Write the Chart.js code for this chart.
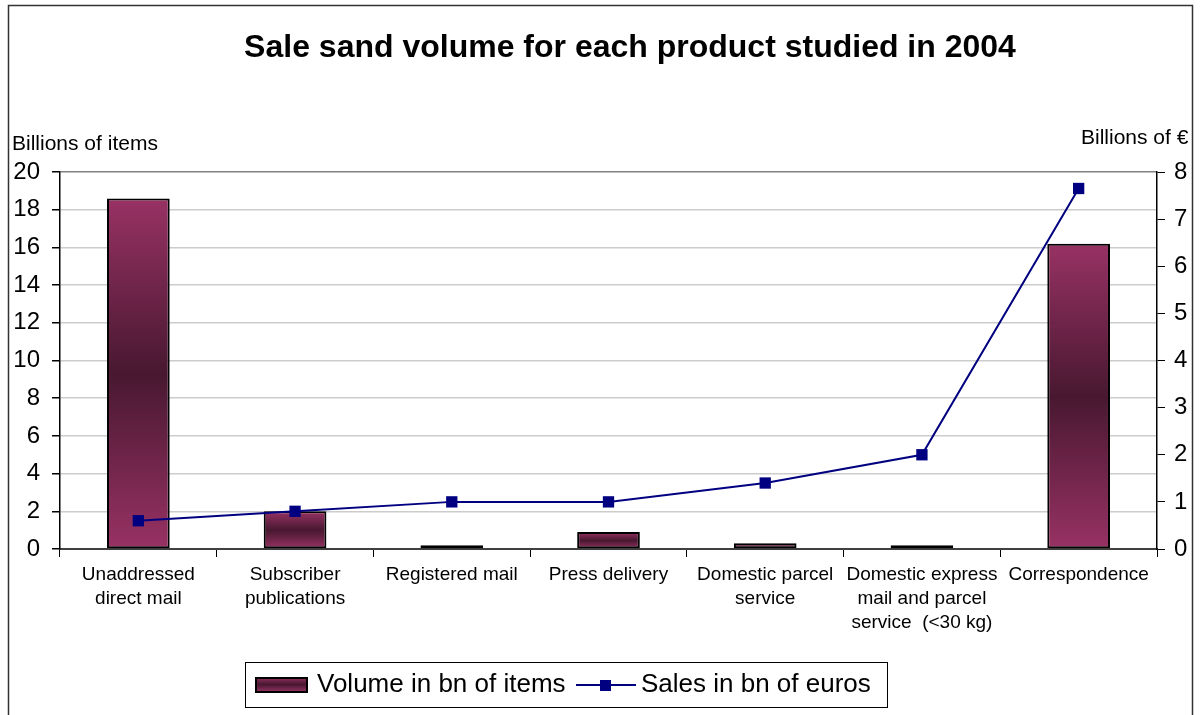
<!DOCTYPE html>
<html>
<head>
<meta charset="utf-8">
<script src="https://cdn.jsdelivr.net/npm/chart.js@4.4.1/dist/chart.umd.min.js"></script>
<style>
  html, body { margin: 0; padding: 0; background: #fff; }
  #wrap { width: 1202px; height: 715px; }
</style>
</head>
<body>
<div id="wrap"><canvas id="myChart" width="1202" height="715"></canvas></div>
<script>
const products = [
    ['Unaddressed', 'direct mail'],
    ['Subscriber', 'publications'],
    'Registered mail',
    'Press delivery',
    ['Domestic parcel', 'service'],
    ['Domestic express', 'mail and parcel', 'service  (<30 kg)'],
    'Correspondence',
];
const volumeItems = [18.6, 2.0, 0.2, 0.9, 0.3, 0.2, 16.2];
const salesEuros = [0.6, 0.8, 1.0, 1.0, 1.4, 2.0, 7.65];
const leftTicks = [0, 20, 2];
const rightTicks = [0, 8, 1];

const FONT = "'Liberation Sans', Arial, sans-serif";
const pink = "rgb(152, 50, 100)";
const dark = "rgb(72, 24, 48)";
const navy = "#000080";

const ctx = document.getElementById("myChart").getContext("2d");

// bar fill: pink at the ends, dark in the middle
function barFill(c) {
    const chart = c.chart;
    if (!chart.chartArea || c.type !== 'data') return pink;
    const y = chart.scales.y;
    const top = y.getPixelForValue(c.raw);
    const base = y.getPixelForValue(0);
    if (base - top < 2) return dark;
    const g = chart.ctx.createLinearGradient(0, top, 0, base);
    g.addColorStop(0, pink);
    g.addColorStop(0.5, dark);
    g.addColorStop(1, pink);
    return g;
}

const decorations = {
    id: 'decorations',
    afterDraw(chart) {
        const c = chart.ctx;
        c.save();
        // frame
        c.strokeStyle = "#333";
        c.lineWidth = 1.5;
        c.strokeRect(8.5, 5.5, 1184, 720);

        // title
        c.fillStyle = "#000";
        c.font = "bold 32px " + FONT;
        c.textAlign = "center";
        c.textBaseline = "middle";
        c.fillText("Sale sand volume for each product studied in 2004", 630, 48);

        // axis titles
        c.font = "21px " + FONT;
        c.textAlign = "left";
        c.textBaseline = "alphabetic";
        c.fillText("Billions of items", 12, 150);
        c.save();
        c.beginPath();
        c.rect(0, 0, 1192, 715);
        c.clip();
        c.fillText("Billions of \u20AC", 1081, 144);
        c.restore();

        // legend
        c.strokeStyle = "#000";
        c.lineWidth = 1;
        c.strokeRect(245.5, 662.5, 642, 45);

        const g = c.createLinearGradient(0, 677, 0, 692);
        g.addColorStop(0, pink);
        g.addColorStop(0.5, dark);
        g.addColorStop(1, pink);
        c.fillStyle = g;
        c.fillRect(256, 678, 51, 14);
        c.lineWidth = 2;
        c.strokeRect(256, 678, 51, 14);

        c.fillStyle = "#000";
        c.font = "26px " + FONT;
        c.textBaseline = "middle";
        c.fillText("Volume in bn of items", 317, 685);

        c.strokeStyle = navy;
        c.lineWidth = 2;
        c.beginPath();
        c.moveTo(576, 685);
        c.lineTo(636, 685);
        c.stroke();
        c.fillStyle = navy;
        c.fillRect(600, 680, 11, 11);

        c.fillStyle = "#000";
        c.fillText("Sales in bn of euros", 641, 685);
        c.restore();
    }
};

const data = {
    labels: products,
    datasets: [
        {
            type: "line",
            label: "Sales in bn of euros",
            data: salesEuros,
            yAxisID: "y1",
            borderColor: navy,
            borderWidth: 2,
            backgroundColor: navy,
            pointStyle: "rect",
            pointRadius: 8,
            pointBorderWidth: 0,
            pointBackgroundColor: navy,
            tension: 0,
            order: 0,
        },
        {
            type: "bar",
            label: "Volume in bn of items",
            data: volumeItems,
            yAxisID: "y",
            backgroundColor: barFill,
            borderColor: "#000",
            borderWidth: 2,
            borderSkipped: false,
            barPercentage: 0.4,
            categoryPercentage: 1,
            order: 1,
        },
    ],
};

const config = {
    type: "bar",
    data: data,
    plugins: [decorations],
    options: {
        responsive: false,
        animation: false,
        layout: { padding: { top: 172, bottom: 66, left: 0, right: 0 } },
        plugins: {
            legend: { display: false },
            title: { display: false },
            tooltip: { enabled: false },
        },
        scales: {
            x: {
                offset: true,
                afterFit: (s) => { s.height = 100; },
                grid: {
                    offset: true,
                    drawOnChartArea: false,
                    tickLength: 8,
                    tickColor: "#000",
                },
                border: { color: "#404040", width: 2 },
                ticks: {
                    color: "#000",
                    font: { family: FONT, size: 19, lineHeight: 1.25 },
                    padding: 6,
                    maxRotation: 0,
                    autoSkip: false,
                },
            },
            y: {
                position: "left",
                min: leftTicks[0],
                max: leftTicks[1],
                afterFit: (s) => { s.width = 60; },
                grid: {
                    color: (c) => c.tick && c.tick.value === leftTicks[1] ? "#808080" : "#cccccc",
                    lineWidth: 1.5,
                    tickLength: 8,
                    tickColor: "#000",
                },
                border: { color: "#000", width: 1.5 },
                ticks: {
                    stepSize: leftTicks[2],
                    color: "#000",
                    font: { family: FONT, size: 24 },
                    padding: 12,
                },
            },
            y1: {
                position: "right",
                min: rightTicks[0],
                max: rightTicks[1],
                afterFit: (s) => { s.width = 45; },
                grid: {
                    drawOnChartArea: false,
                    tickLength: 8,
                    tickColor: "#000",
                },
                border: { color: "#000", width: 1.5 },
                ticks: {
                    stepSize: rightTicks[2],
                    color: "#000",
                    font: { family: FONT, size: 24 },
                    padding: 9,
                },
            },
        },
    },
};

const myChart = new Chart(ctx, config);
</script>
</body>
</html>
